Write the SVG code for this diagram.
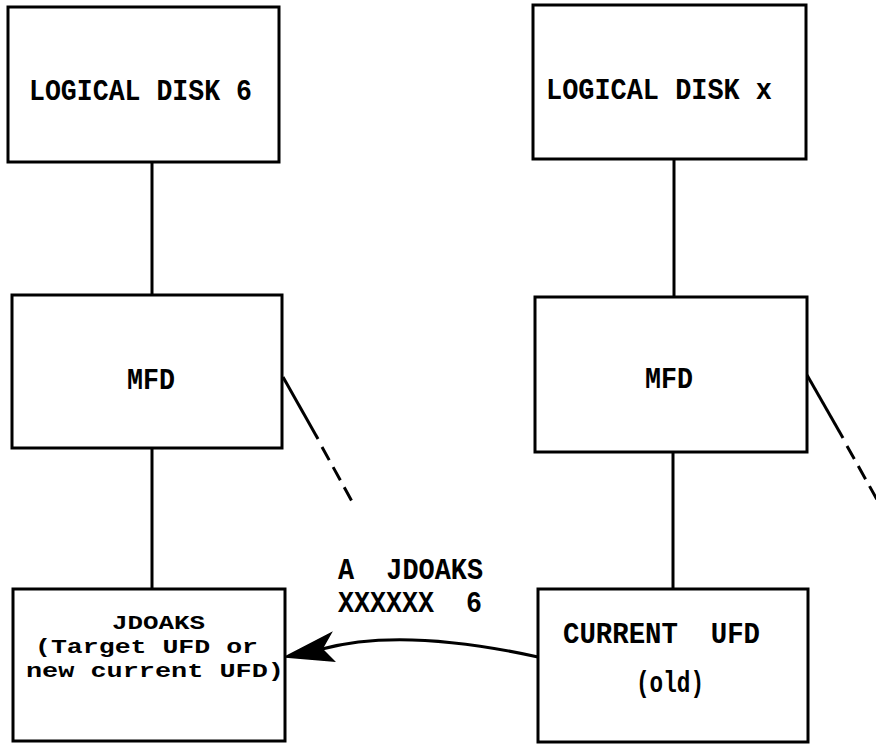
<svg xmlns="http://www.w3.org/2000/svg" width="876" height="744" viewBox="0 0 876 744">
<style>
.box{fill:#fff;stroke:#000;stroke-width:3}
.ln{fill:none;stroke:#000;stroke-width:3}
.dash{fill:none;stroke:#000;stroke-width:3;stroke-dasharray:15 8}
.t{font-family:"Liberation Mono","DejaVu Sans Mono",monospace;font-size:29px;font-weight:bold;fill:#000;white-space:pre}
.s{font-size:21px}
</style>
<rect width="876" height="744" fill="#fff"/>
<g id="connectors">
<line class="ln" x1="152" y1="162" x2="152" y2="295"/>
<line class="ln" x1="152" y1="448" x2="152" y2="589"/>
<line class="ln" x1="674" y1="159" x2="674" y2="297"/>
<line class="ln" x1="673" y1="452" x2="673" y2="589"/>
<line class="ln" x1="283" y1="377" x2="318" y2="439"/>
<line class="dash" x1="322" y1="447" x2="354" y2="505"/>
<line class="ln" x1="807" y1="375" x2="843" y2="438"/>
<line class="dash" x1="847" y1="446" x2="884" y2="512"/>
<path class="ln" d="M538,657 Q402,627 322,649"/>
<path d="M285,657 L331,633 L322,649 L334,661 Z" fill="#000" stroke="#000" stroke-width="1.5"/>
</g>
<g id="ld6">
<rect class="box" x="8" y="7" width="271" height="155"/>
<text class="t" x="29" y="100" textLength="223" lengthAdjust="spacingAndGlyphs">LOGICAL DISK 6</text>
</g>
<g id="mfd1">
<rect class="box" x="12" y="295" width="270" height="153"/>
<text class="t" x="127" y="389" textLength="48" lengthAdjust="spacingAndGlyphs">MFD</text>
</g>
<g id="jdoaks">
<rect class="box" x="13" y="589" width="272" height="152"/>
<text class="t s" x="112" y="629" textLength="93" lengthAdjust="spacingAndGlyphs">JDOAKS</text>
<text class="t s" x="35" y="653" textLength="223" lengthAdjust="spacingAndGlyphs">(Target UFD or</text>
<text class="t s" x="26" y="677" textLength="258" lengthAdjust="spacingAndGlyphs">new current UFD)</text>
</g>
<g id="ldx">
<rect class="box" x="533" y="5" width="273" height="154"/>
<text class="t" x="546" y="99" textLength="226" lengthAdjust="spacingAndGlyphs">LOGICAL DISK x</text>
</g>
<g id="mfd2">
<rect class="box" x="535" y="297" width="272" height="155"/>
<text class="t" x="645" y="388" textLength="48" lengthAdjust="spacingAndGlyphs">MFD</text>
</g>
<g id="current">
<rect class="box" x="538" y="589" width="270" height="153"/>
<text class="t" x="563" y="643" textLength="197" lengthAdjust="spacingAndGlyphs" xml:space="preserve">CURRENT  UFD</text>
<text class="t" x="636" y="692" textLength="68" lengthAdjust="spacingAndGlyphs">(old)</text>
</g>
<g id="label">
<text class="t" x="338" y="579" textLength="145" lengthAdjust="spacingAndGlyphs" xml:space="preserve">A  JDOAKS</text>
<text class="t" x="338" y="612" textLength="144" lengthAdjust="spacingAndGlyphs" xml:space="preserve">XXXXXX  6</text>
</g>
</svg>
